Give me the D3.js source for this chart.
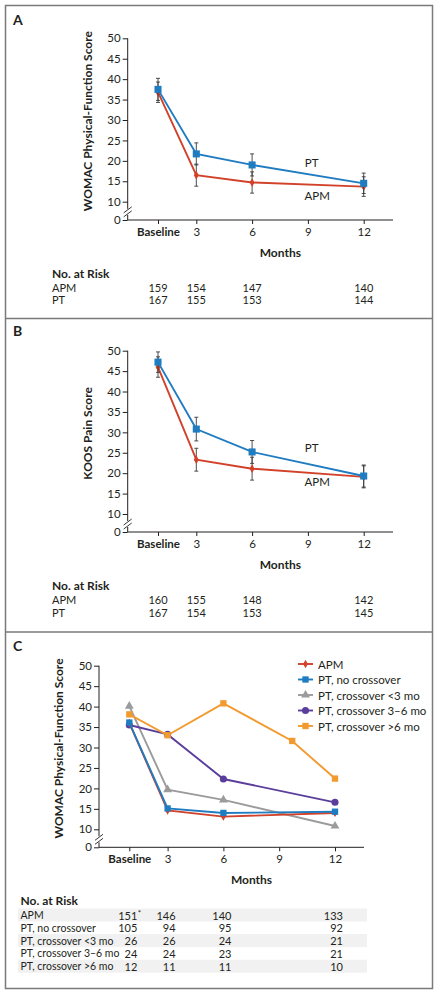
<!DOCTYPE html>
<html><head><meta charset="utf-8">
<script src="https://cdn.jsdelivr.net/npm/d3@7"></script>
<style>
html,body{margin:0;padding:0;background:#fff;}
svg{display:block;font-family:Lato,"Noto Sans",sans-serif;}
</style></head>
<body><svg id="chart" width="438" height="993"></svg>
<script>
// ---------- DATA ----------
const months = [0, 3, 6, 12];            // 0 = Baseline
const tickMonths = [0, 3, 6, 9, 12];
const yTicks = [0, 10, 15, 20, 25, 30, 35, 40, 45, 50];

// Panel A: WOMAC physical function
const aPT = [37.5, 21.7, 19.0, 14.5];
const aPTerr = [2.7, 2.7, 2.7, 2.5];
const aAPM = [36.8, 16.5, 14.7, 13.7];
const aAPMerr = [2.5, 2.7, 2.6, 2.4];
const aRiskAPM = [159, 154, 147, 140];
const aRiskPT = [167, 155, 153, 144];

// Panel B: KOOS pain
const bPT = [47.2, 30.8, 25.2, 19.3];
const bPTerr = [2.5, 2.9, 2.8, 2.7];
const bAPM = [46.0, 23.3, 21.1, 19.1];
const bAPMerr = [2.5, 2.8, 2.8, 2.7];
const bRiskAPM = [160, 155, 148, 142];
const bRiskPT = [167, 154, 153, 145];

// Panel C: WOMAC by crossover group
const cNames = ["APM", "PT, no crossover", "PT, crossover <3 mo", "PT, crossover 3\u20136 mo", "PT, crossover >6 mo"];
const cAPM = [36.0, 14.6, 13.1, 14.0];
const cNoCross = [36.1, 15.1, 14.0, 14.3];
const cCross3 = [40.1, 19.7, 17.2, 10.8];
const cCross36 = [35.5, 33.2, 22.3, 16.6];
const cCross6Months = [0, 3, 6, 9.7, 12];
const cCross6 = [38.1, 33.0, 40.8, 31.6, 22.4];
const cRisk = [
  [151, 146, 140, 133],
  [105, 94, 95, 92],
  [26, 26, 24, 21],
  [24, 24, 23, 21],
  [12, 11, 11, 10]
];
const cRiskNote = ["*", "", "", "", ""];

// ---------- STYLE ----------
const RED = "#d2412a", BLUE = "#1f7cc1", GRAY = "#9b9b9b", PURPLE = "#5b3e9c", ORANGE = "#f29a2e";
const INK = "#231f20";
const svg = d3.select("#chart");

// frame
svg.append("rect").attr("x", 5.5).attr("y", 5.5).attr("width", 427).attr("height", 983)
  .attr("fill", "none").attr("stroke", "#7a7a7a").attr("stroke-width", 1.5);
[318.5, 632].forEach(y => svg.append("line").attr("x1", 5.5).attr("x2", 432.5).attr("y1", y).attr("y2", y)
  .attr("stroke", "#7a7a7a").attr("stroke-width", 1.5));

function makePanel(cfg) {
  const g = svg.append("g");
  const x = d3.scaleLinear().domain([0, 3, 12]).range([cfg.xBase, cfg.xBase + 38.3, cfg.xBase + 205.7]);
  const y = d3.scaleLinear().domain([0, 10, 50]).range([cfg.y0, cfg.y10, cfg.y50]);

  g.append("text").attr("x", 13).attr("y", cfg.letterY).text(cfg.letter)
    .attr("font-weight", "bold").attr("font-size", 14).attr("fill", INK);

  // y axis
  const ya = g.append("g").attr("transform", `translate(${cfg.xOrigin},0)`)
    .call(d3.axisLeft(y).tickValues(yTicks).tickSize(5).tickPadding(2));
  ya.select(".domain").remove();
  ya.selectAll("line").attr("stroke", INK);
  ya.selectAll("text").attr("font-size", 11.5).attr("fill", INK).attr("font-family", "Lato,'Noto Sans',sans-serif");
  const yb = (cfg.y10 + cfg.y0) / 2 + 1;
  g.append("line").attr("x1", cfg.xOrigin).attr("x2", cfg.xOrigin).attr("y1", cfg.y50).attr("y2", yb - 3)
    .attr("stroke", INK);
  g.append("line").attr("x1", cfg.xOrigin).attr("x2", cfg.xOrigin).attr("y1", yb + 3).attr("y2", cfg.y0)
    .attr("stroke", INK);
  [-2, 2].forEach(o => g.append("line")
    .attr("x1", cfg.xOrigin - 4).attr("y1", yb + o + 3).attr("x2", cfg.xOrigin + 4).attr("y2", yb + o - 3)
    .attr("stroke", INK).attr("stroke-width", 0.9));
  g.append("text").attr("transform", `translate(${cfg.yLabelX},${(cfg.y50 + cfg.y0) / 2 - 8}) rotate(-90)`)
    .attr("text-anchor", "middle").attr("dominant-baseline", "central")
    .attr("font-weight", "bold").attr("font-size", 12).attr("fill", INK).text(cfg.yLabel);

  // x axis
  g.append("line").attr("x1", cfg.xOrigin).attr("x2", cfg.xEnd).attr("y1", cfg.y0).attr("y2", cfg.y0).attr("stroke", INK);
  const xa = g.append("g").attr("transform", `translate(0,${cfg.y0})`)
    .call(d3.axisBottom(x).tickValues(tickMonths).tickSize(4).tickPadding(4)
      .tickFormat(d => d === 0 ? "Baseline" : d));
  xa.select(".domain").remove();
  xa.selectAll("line").attr("stroke", INK);
  xa.selectAll("text").attr("font-size", 11.5).attr("fill", INK).attr("font-family", "Lato,'Noto Sans',sans-serif")
    .attr("font-weight", d => d === 0 ? "bold" : "normal");
  g.append("text").attr("x", (cfg.xOrigin + cfg.xEnd) / 2 + 20).attr("y", cfg.y0 + 32)
    .attr("text-anchor", "middle").attr("dominant-baseline", "central")
    .attr("font-weight", "bold").attr("font-size", 12).attr("fill", INK).text("Months");
  return { g, x, y };
}

function drawSeries(p, xs, vals, color, symType, symSize, errs) {
  const line = d3.line().x((d, i) => p.x(xs[i])).y(d => p.y(d));
  p.g.append("path").datum(vals).attr("d", line).attr("fill", "none").attr("stroke", color).attr("stroke-width", 1.9);
  if (errs) {
    vals.forEach((v, i) => {
      const xx = p.x(xs[i]), lo = p.y(v - errs[i]), hi = p.y(v + errs[i]);
      p.g.append("line").attr("x1", xx).attr("x2", xx).attr("y1", lo).attr("y2", hi).attr("stroke", "#3a3a3a").attr("stroke-width", 0.9);
      [lo, hi].forEach(yy => p.g.append("line").attr("x1", xx - 2).attr("x2", xx + 2).attr("y1", yy).attr("y2", yy)
        .attr("stroke", "#3a3a3a").attr("stroke-width", 0.9));
    });
  }
  p.g.selectAll(null).data(vals).enter().append("path")
    .attr("transform", (d, i) => `translate(${p.x(xs[i])},${p.y(d)})`)
    .attr("d", d3.symbol().type(symType).size(symSize)).attr("fill", color);
}

function riskAB(p, cfg, riskAPM, riskPT) {
  const g = p.g;
  g.append("text").attr("x", 52).attr("y", cfg.riskY).attr("dominant-baseline", "central")
    .attr("font-weight", "bold").attr("font-size", 12).attr("fill", INK).text("No. at Risk");
  [["APM", riskAPM], ["PT", riskPT]].forEach(([name, arr], r) => {
    const yy = cfg.riskY + 14 + r * 12.8;
    g.append("text").attr("x", 52).attr("y", yy).attr("dominant-baseline", "central")
      .attr("font-size", 11).attr("fill", INK).text(name);
    arr.forEach((n, i) => g.append("text").attr("x", p.x(months[i])).attr("y", yy)
      .attr("text-anchor", "middle").attr("dominant-baseline", "central")
      .attr("font-size", 11).attr("fill", INK).text(n));
  });
}

// ---------- Panel A ----------
const cfgA = { letter: "A", letterY: 25, xOrigin: 127.7, xBase: 158, xEnd: 393,
  y50: 38.3, y10: 201.7, y0: 220, yLabelX: 87, yLabel: "WOMAC Physical-Function Score", riskY: 273 };
const pA = makePanel(cfgA);
drawSeries(pA, months, aAPM, RED, d3.symbolDiamond, 22, aAPMerr);
drawSeries(pA, months, aPT, BLUE, d3.symbolSquare, 50, aPTerr);
pA.g.append("text").attr("x", pA.x(9.2)).attr("y", pA.y(19.7)).attr("text-anchor", "middle").attr("dominant-baseline", "central")
  .attr("font-size", 11.5).attr("fill", INK).text("PT");
pA.g.append("text").attr("x", pA.x(9.5)).attr("y", pA.y(11.6)).attr("text-anchor", "middle").attr("dominant-baseline", "central")
  .attr("font-size", 11.5).attr("fill", INK).text("APM");
riskAB(pA, cfgA, aRiskAPM, aRiskPT);

// ---------- Panel B ----------
const cfgB = { letter: "B", letterY: 336, xOrigin: 127.7, xBase: 158, xEnd: 393,
  y50: 350.7, y10: 514, y0: 532, yLabelX: 87, yLabel: "KOOS Pain Score", riskY: 585.7 };
const pB = makePanel(cfgB);
drawSeries(pB, months, bAPM, RED, d3.symbolDiamond, 22, bAPMerr);
drawSeries(pB, months, bPT, BLUE, d3.symbolSquare, 50, bPTerr);
pB.g.append("text").attr("x", pB.x(9.2)).attr("y", pB.y(26.2)).attr("text-anchor", "middle").attr("dominant-baseline", "central")
  .attr("font-size", 11.5).attr("fill", INK).text("PT");
pB.g.append("text").attr("x", pB.x(9.5)).attr("y", pB.y(17.9)).attr("text-anchor", "middle").attr("dominant-baseline", "central")
  .attr("font-size", 11.5).attr("fill", INK).text("APM");
riskAB(pB, cfgB, bRiskAPM, bRiskPT);

// ---------- Panel C ----------
const cfgC = { letter: "C", letterY: 651, xOrigin: 99, xBase: 129.3, xEnd: 364,
  y50: 665.7, y10: 829.3, y0: 847.3, yLabelX: 58, yLabel: "WOMAC Physical-Function Score" };
const pC = makePanel(cfgC);
const cSeries = [
  { name: cNames[2], xs: months, vals: cCross3, color: GRAY, sym: d3.symbolTriangle, size: 34 },
  { name: cNames[3], xs: months, vals: cCross36, color: PURPLE, sym: d3.symbolCircle, size: 40 },
  { name: cNames[4], xs: cCross6Months, vals: cCross6, color: ORANGE, sym: d3.symbolSquare, size: 40 },
  { name: cNames[0], xs: months, vals: cAPM, color: RED, sym: d3.symbolDiamond, size: 20 },
  { name: cNames[1], xs: months, vals: cNoCross, color: BLUE, sym: d3.symbolSquare, size: 40 }
];
cSeries.forEach(s => drawSeries(pC, s.xs, s.vals, s.color, s.sym, s.size, null));

// legend
const legOrder = [3, 4, 0, 1, 2];
legOrder.forEach((si, r) => {
  const s = cSeries[si];
  const ly = 664 + r * 15.5;
  const lg = pC.g.append("g").attr("transform", `translate(298,${ly})`);
  lg.append("line").attr("x1", 0).attr("x2", 15).attr("stroke", s.color).attr("stroke-width", 1.9);
  lg.append("path").attr("transform", "translate(7.5,0)").attr("d", d3.symbol().type(s.sym).size(s.size)).attr("fill", s.color);
  lg.append("text").attr("x", 20).attr("dominant-baseline", "central").attr("font-size", 11.5).attr("fill", INK).text(s.name);
});

// risk table C
pC.g.append("text").attr("x", 20.5).attr("y", 900.7).attr("dominant-baseline", "central")
  .attr("font-weight", "bold").attr("font-size", 12).attr("fill", INK).text("No. at Risk");
cNames.forEach((name, r) => {
  const yy = 915 + r * 12.8;
  if (r % 2 === 0) pC.g.append("rect").attr("x", 18).attr("y", yy - 6.5).attr("width", 349).attr("height", 13).attr("fill", "#f1f1f1");
  pC.g.append("text").attr("x", 20.5).attr("y", yy).attr("dominant-baseline", "central")
    .attr("font-size", 10.5).attr("fill", INK).text(name);
  cRisk[r].forEach((n, i) => {
    const xx = pC.x(months[i]) + 8;
    pC.g.append("text").attr("x", xx).attr("y", yy).attr("text-anchor", "end").attr("dominant-baseline", "central")
      .attr("font-size", 11).attr("fill", INK).text(n);
    if (i === 0 && cRiskNote[r]) pC.g.append("text").attr("x", xx + 0.5).attr("y", yy - 2).attr("dominant-baseline", "central")
      .attr("font-size", 8).attr("fill", INK).text(cRiskNote[r]);
  });
});
</script></body></html>
